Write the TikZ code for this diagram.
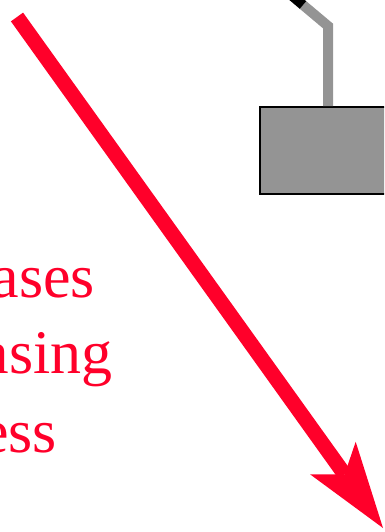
\documentclass[tikz,border=0pt]{standalone}
\usepackage{fontspec}
\setmainfont{Liberation Serif}
\usetikzlibrary{arrows.meta}
\definecolor{hot}{RGB}{255,0,42}
\definecolor{blockgray}{RGB}{148,148,148}
\tikzset{
  word/.style={text=hot, font=\fontsize{62}{74}\selectfont, inner sep=0pt, anchor=base east},
  trend/.style={draw=hot, line width=15pt, -{Stealth[length=86pt, width=56pt, inset=20pt, line width=0pt]}},
  block/.style={draw=black, fill=blockgray, line width=1.5pt, minimum width=136pt, minimum height=87pt, inner sep=0pt},
  rod/.style={draw=blockgray, line width=10pt},
}
\begin{document}
\begin{tikzpicture}[x=1pt, y=-1pt]
  \useasboundingbox (0,0) rectangle (384,532);
  \clip (0,0) rectangle (384,532);
  % hanging block
  \node[block] (mass) at (328,150.5) {};
  \coordinate (bend) at (328,26);
  \coordinate (hook) at (303,5);
  \coordinate (cut) at (290,-6);
  \draw[rod] (mass.north) -- (bend) -- (hook);
  \draw[line width=10pt, black] (hook) -- (cut);
  % words, cut at the left edge
  \node[word] (w1) at (95,297) {ases};
  \node[word] (w2) at (113,373) {asing};
  \node[word] (w3) at (57,452) {ess};
  % the trend arrow
  \coordinate (from) at (17,17);
  \coordinate (to) at (383,528);
  \draw[trend] (from) -- (to);
\end{tikzpicture}
\end{document}
